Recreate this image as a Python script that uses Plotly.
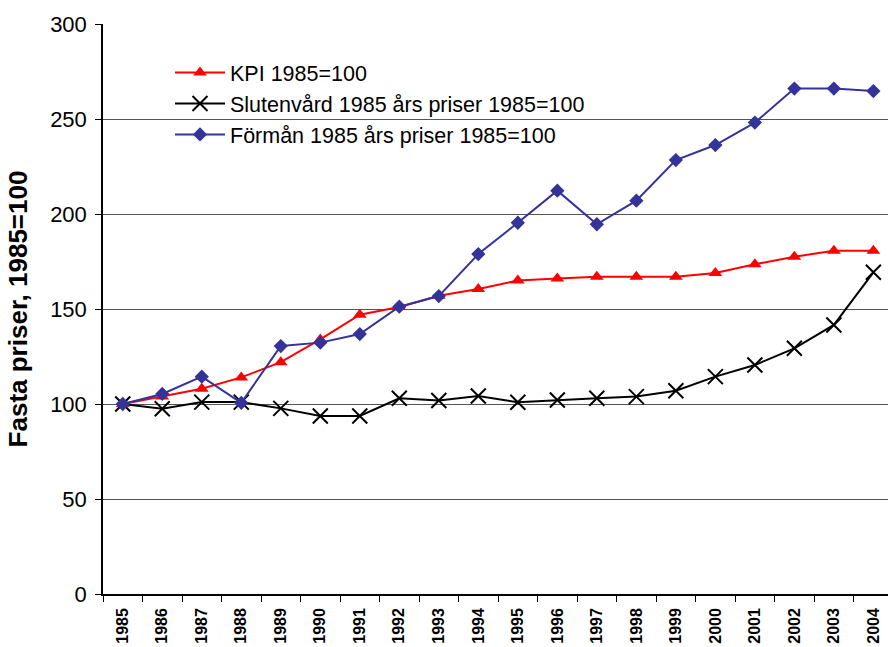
import plotly.graph_objects as go

years = [str(y) for y in range(1985, 2005)]
kpi = [100, 104, 108, 114, 122, 134, 147, 151, 157, 160.5, 165, 166, 167, 167, 167, 169, 173.5, 177.5, 180.7, 180.7]
slutenvard = [100, 97.5, 101, 101, 97.7, 93.7, 93.7, 103, 101.8, 104.2, 100.9, 102.1, 103, 103.9, 107, 114.4, 120.5, 129.3, 141.6, 169.3]
forman = [100, 105.3, 114.4, 100.6, 130.5, 132.3, 136.8, 151.2, 156.8, 178.9, 195.4, 212.3, 194.6, 207, 228.4, 236.3, 248.1, 266, 266, 264.7]

names = ["KPI 1985=100", "Slutenvård 1985 års priser 1985=100", "Förmån 1985 års priser 1985=100"]
y_ticks = [0, 50, 100, 150, 200, 250, 300]

FONT = "Arial, Liberation Sans, sans-serif"

fig = go.Figure()
fig.add_trace(go.Scatter(
    x=years, y=kpi, name=names[0], mode="lines+markers", legendgroup="a",
    line=dict(color="#FF0000", width=2),
    marker=dict(symbol="triangle-up", size=12, color="#FF0000"),
))
fig.add_trace(go.Scatter(
    x=years, y=slutenvard, name=names[1], mode="lines+markers", legendgroup="b",
    line=dict(color="#000000", width=2),
    marker=dict(symbol="x-thin", size=15, color="#000000", line=dict(color="#000000", width=2)),
))
fig.add_trace(go.Scatter(
    x=years, y=forman, name=names[2], mode="lines+markers", legendgroup="c",
    line=dict(color="#333399", width=2),
    marker=dict(symbol="diamond", size=11, color="#333399"),
))

W, H = 888, 647
L, R, T, B = 103, 0, 24, 53
pw = W - L - R
ph = H - T - B

def px_x(p):
    return (p - L) / pw

def px_y(p):
    return (H - B - p) / ph

# legend white background box
fig.add_shape(type="rect", xref="paper", yref="paper",
              x0=px_x(148), x1=px_x(612), y0=px_y(160), y1=px_y(50),
              fillcolor="white", line=dict(width=0), layer="between")

fig.update_layout(
    width=W, height=H,
    margin=dict(l=L, r=R, t=T, b=B, autoexpand=False),
    paper_bgcolor="white", plot_bgcolor="white",
    font=dict(family=FONT, color="black"),
    showlegend=True,
    legend=dict(
        x=px_x(170), y=px_y(52), xanchor="left", yanchor="top",
        bgcolor="rgba(0,0,0,0)", font=dict(size=21.5, family=FONT),
        tracegroupgap=0, traceorder="grouped", itemwidth=50,
    ),
    xaxis=dict(
        type="category", range=[-0.5, 19.37], automargin=False,
        showline=True, linecolor="black", linewidth=1.5,
        ticks="outside", tickson="boundaries", ticklen=6, tickcolor="black",
        tickangle=-90, tickfont=dict(size=16, family=FONT, weight="bold"),
        ticklabelstandoff=6,
        showgrid=False, zeroline=False, fixedrange=True,
    ),
    yaxis=dict(
        range=[0, 300], tickvals=y_ticks, automargin=False,
        showline=True, linecolor="black", linewidth=1.5,
        ticks="outside", ticklen=6, tickcolor="black",
        tickfont=dict(size=22, family=FONT),
        ticklabelstandoff=4,
        showgrid=True, gridcolor="#555555", gridwidth=1,
        zeroline=False,
        title=dict(text="<b>Fasta priser, 1985=100</b>", font=dict(size=26, family=FONT), standoff=15),
    ),
)

fig.write_html("out.html", config={"displayModeBar": False},
               post_script="document.body.style.margin='0';document.body.style.overflow='hidden';")
